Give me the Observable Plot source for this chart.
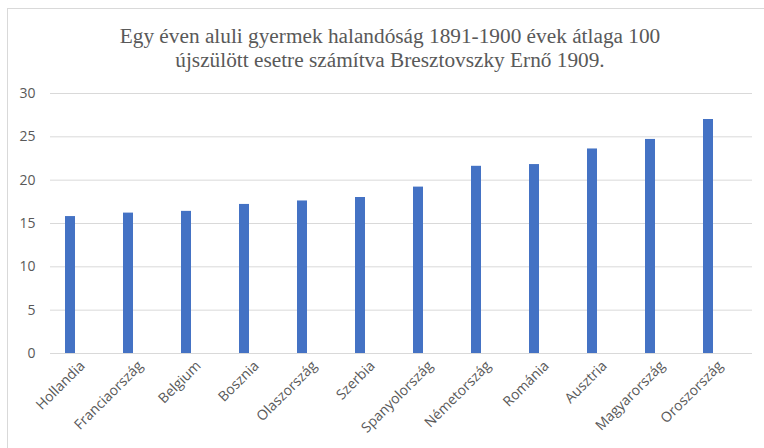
<!DOCTYPE html>
<html>
<head>
<meta charset="utf-8">
<script src="https://cdn.jsdelivr.net/npm/d3@7"></script>
<script src="https://cdn.jsdelivr.net/npm/@observablehq/plot@0.6"></script>
<style>
  html, body { margin: 0; padding: 0; background: #fff; width: 764px; height: 448px; overflow: hidden; }
  #frame { position: absolute; left: 7px; top: 8px; width: 800px; height: 500px; border: 1px solid #d9d9d9; box-sizing: border-box; }
  #title { position: absolute; left: 8px; top: 0; width: 764px; height: 80px; text-align: center;
           font-family: "Liberation Serif", "Times New Roman", serif; font-size: 21.3px; line-height: 24px;
           color: #595959; padding-top: 24px; box-sizing: border-box; }
  #chart { position: absolute; left: 0; top: 80px; }
</style>
</head>
<body>
<div id="frame"></div>
<div id="title">Egy éven aluli gyermek halandóság 1891-1900 évek átlaga 100<br>újszülött esetre számítva Bresztovszky Ernő 1909.</div>
<div id="chart"></div>
<script>
const countries = ["Hollandia", "Franciaország", "Belgium", "Bosznia", "Olaszország", "Szerbia",
  "Spanyolország", "Németország", "Románia", "Ausztria", "Magyarország", "Oroszország"];
const values = [15.8, 16.2, 16.4, 17.2, 17.6, 18.0, 19.2, 21.6, 21.8, 23.6, 24.7, 27.0];
const yTicks = [0, 5, 10, 15, 20, 25, 30];

const data = countries.map((c, i) => ({country: c, value: values[i]}));

const chart = Plot.plot({
  width: 764,
  height: 368,
  marginLeft: 50,
  marginRight: 12,
  marginTop: 13,
  marginBottom: 95,
  style: { fontFamily: "'Open Sans', sans-serif", fontSize: "14px", color: "#595959", background: "transparent" },
  x: { type: "band", domain: countries, range: [38, 740], paddingInner: 0.82, paddingOuter: 0.41, label: null },
  y: { domain: [0, 30], ticks: yTicks, label: null },
  marks: [
    Plot.ruleY(yTicks, { stroke: "#d9d9d9", strokeWidth: 1 }),
    Plot.barY(data, { x: "country", y: "value", fill: "#4472c4" }),
    Plot.axisY({ ticks: yTicks, tickSize: 0, tickPadding: 15, label: null, fill: "#595959" }),
    Plot.axisX({ tickSize: 0, tickPadding: 6, tickRotate: -45, dx: 12, dy: 4, label: null, fill: "#595959" })
  ]
});
document.getElementById("chart").appendChild(chart);
</script>
</body>
</html>
